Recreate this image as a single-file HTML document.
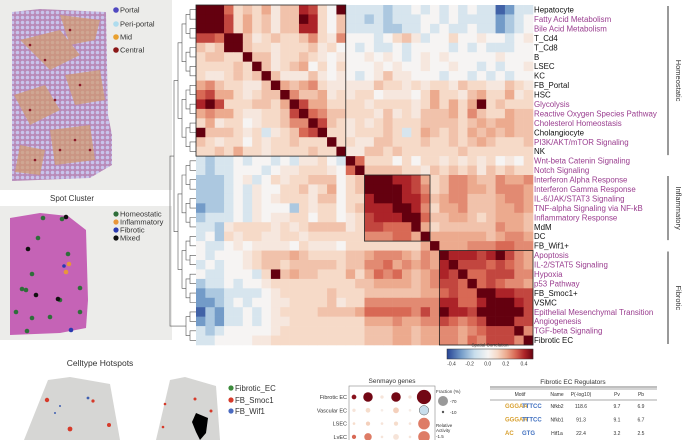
<!DOCTYPE html>
<html><head><meta charset="utf-8">
<style>
html,body{margin:0;padding:0;background:#fff;}
body{width:686px;height:440px;overflow:hidden;position:relative;font-family:"Liberation Sans",sans-serif;}
svg{position:absolute;left:0;top:0;}
text{font-family:"Liberation Sans",sans-serif;}
</style></head>
<body>
<svg id="fig" width="686" height="440" viewBox="0 0 686 440">
<defs>
<pattern id="hex" width="5" height="5" patternUnits="userSpaceOnUse">
<rect width="5" height="5" fill="#b88ab8"/>
<circle cx="2.5" cy="2.5" r="1.8" fill="#c8c4ec"/>
</pattern>
</defs>
<g>
<rect x="0" y="0" width="172" height="190" fill="#ececea"/>
<path d="M12 12 L40 9 L106 12 L108 115 L112 135 L112 165 L100 172 L90 178 L12 181 Z" fill="url(#hex)"/>
<g fill="#d39a6d" opacity="0.7">
<path d="M20 40 L60 30 L80 55 L50 70 Z"/><path d="M14 95 L45 85 L60 110 L30 125 Z"/><path d="M65 75 L100 70 L105 100 L75 105 Z"/><path d="M50 130 L90 125 L95 160 L55 165 Z"/><path d="M20 145 L45 150 L40 175 L15 172 Z"/><path d="M60 15 L100 20 L95 40 L70 45 Z"/>
</g>
<g fill="#8b1a2a">
<circle cx="30" cy="45" r="1.3"/><circle cx="45" cy="60" r="1.3"/><circle cx="70" cy="30" r="1.3"/><circle cx="80" cy="85" r="1.3"/><circle cx="55" cy="100" r="1.3"/><circle cx="30" cy="110" r="1.3"/><circle cx="75" cy="140" r="1.3"/><circle cx="90" cy="150" r="1.3"/><circle cx="35" cy="160" r="1.3"/><circle cx="60" cy="150" r="1.3"/>
</g>
<g font-size="7.5" fill="#333">
<circle cx="116" cy="10" r="2.8" fill="#5048c0"/><text x="120" y="12.5">Portal</text>
<circle cx="116" cy="24" r="2.8" fill="#aedcee"/><text x="120" y="26.5">Peri-portal</text>
<circle cx="116" cy="37" r="2.8" fill="#e8a030"/><text x="120" y="39.5">Mid</text>
<circle cx="116" cy="50" r="2.8" fill="#8a1818"/><text x="120" y="52.5">Central</text>
</g>
</g>
<text x="72" y="201" font-size="8" fill="#333" text-anchor="middle">Spot Cluster</text>
<g>
<rect x="0" y="206" width="172" height="134" fill="#ececea"/>
<path d="M10 218 L40 213 L68 216 L86 230 L88 300 L86 328 L60 333 L10 335 Z" fill="#c563b6"/>
<g fill="#2f6e3a">
<circle cx="43" cy="218" r="2.3"/><circle cx="38" cy="238" r="2.3"/><circle cx="68" cy="254" r="2.3"/><circle cx="32" cy="274" r="2.3"/><circle cx="22" cy="289" r="2.3"/><circle cx="26" cy="290" r="2.3"/><circle cx="80" cy="288" r="2.3"/><circle cx="16" cy="312" r="2.3"/><circle cx="32" cy="318" r="2.3"/><circle cx="50" cy="317" r="2.3"/><circle cx="60" cy="300" r="2.3"/><circle cx="80" cy="312" r="2.3"/><circle cx="27" cy="331" r="2.3"/><circle cx="62" cy="219" r="2.3"/></g>
<g fill="#111"><circle cx="66" cy="217" r="2.3"/><circle cx="28" cy="249" r="2.3"/><circle cx="36" cy="295" r="2.3"/><circle cx="58" cy="299" r="2.3"/></g>
<g fill="#e8963a"><circle cx="69" cy="264" r="2.3"/><circle cx="66" cy="272" r="2.3"/></g>
<g fill="#2a3ab0"><circle cx="64" cy="266" r="1.8"/><circle cx="71" cy="330" r="2.3"/></g>
<g font-size="7.5" fill="#333">
<circle cx="116" cy="214" r="2.6" fill="#2f6e3a"/><text x="120" y="216.5">Homeostatic</text>
<circle cx="116" cy="222" r="2.6" fill="#e8963a"/><text x="120" y="224.5">Inflammatory</text>
<circle cx="116" cy="230" r="2.6" fill="#2a3ab0"/><text x="120" y="232.5">Fibrotic</text>
<circle cx="116" cy="238" r="2.6" fill="#111"/><text x="120" y="240.5">Mixed</text>
</g>
</g>
<g id="dendro" stroke="#555" stroke-width="0.6" fill="none"></g>
<g id="heat"></g>
<g id="labels" font-size="7.9"></g>
<g id="groups"></g>
<g id="cbar"></g>
<text x="100" y="366" font-size="8.5" fill="#333" text-anchor="middle">Celltype Hotspots</text>
<g>
<path d="M48 380 L70 377 L110 384 L120 440 L24 440 Z" fill="#d6d6d4"/>
<path d="M170 380 L185 377 L216 386 L220 440 L156 440 Z" fill="#d6d6d4"/>
<g fill="#d63a2a"><circle cx="47" cy="400" r="2.2"/><circle cx="93" cy="401" r="1.6"/><circle cx="70" cy="429" r="2.4"/><circle cx="109" cy="425" r="2"/><circle cx="165" cy="404" r="1.3"/><circle cx="195" cy="399" r="1.5"/><circle cx="211" cy="411" r="1.5"/><circle cx="163" cy="427" r="1.3"/></g>
<g fill="#4060b0"><circle cx="88" cy="398" r="1.4"/><circle cx="55" cy="413" r="1"/><circle cx="60" cy="406" r="1"/></g>
<path d="M196 413 L208 418 L206 433 L200 440 L196 432 L192 422 Z" fill="#000"/>
<g font-size="7.8" fill="#333">
<circle cx="231" cy="388" r="2.6" fill="#3b8a3b"/><text x="235" y="391">Fibrotic_EC</text>
<circle cx="231" cy="400" r="2.6" fill="#d63a2a"/><text x="235" y="403">FB_Smoc1</text>
<circle cx="231" cy="411" r="2.6" fill="#4a6ac0"/><text x="235" y="414">FB_Wif1</text>
</g>
</g>
<g id="dots"></g>
<g id="table"></g>
</svg>
<script>
const rowLabels=["Hepatocyte","Fatty Acid Metabolism","Bile Acid Metabolism","T_Cd4","T_Cd8","B","LSEC","KC","FB_Portal","HSC","Glycolysis","Reactive Oxygen Species Pathway","Cholesterol Homeostasis","Cholangiocyte","PI3K/AKT/mTOR Signaling","NK","Wnt-beta Catenin Signaling","Notch Signaling","Interferon Alpha Response","Interferon Gamma Response","IL-6/JAK/STAT3 Signaling","TNF-alpha Signaling via NF-kB","Inflammatory Response","MdM","DC","FB_Wif1+","Apoptosis","IL-2/STAT5 Signaling","Hypoxia","p53 Pathway","FB_Smoc1+","VSMC","Epithelial Mesenchymal Transition","Angiogenesis","TGF-beta Signaling","Fibrotic EC"];
const isPathway=[0,1,1,0,0,0,0,0,0,0,1,1,1,0,1,0,1,1,1,1,1,1,1,0,0,0,1,1,1,1,0,0,1,1,1,0];
const corrRows=[
"9996232413387209"+"dd"+"ddcdd0d"+"0"+"d0d0ddabdd",
"9997242313398203"+"dd"+"cdcddd0"+"0"+"d0ddddbcd0",
"9997242313388203"+"dd"+"ddccdd0"+"d"+"0dd0ddbcd0",
"7769931232235215"+"00"+"0d0231d"+"0"+"0200100d01",
"3239932212223120"+"0d"+"0dd0d00"+"0"+"0d0d0ddd00",
"2332293312232101"+"00"+"1010d01"+"0"+"1000001000",
"2222329312340202"+"00"+"0101001"+"0"+"0100d0d001",
"2112323931113101"+"0d"+"0131100"+"0"+"d00d0d0d00",
"4532211394345211"+"11"+"1322121"+"2"+"2132211321",
"6744212339533412"+"12"+"2011102"+"4"+"2213422412",
"8972223324974422"+"22"+"1222212"+"4"+"2424923222",
"4544211223796533"+"22"+"2131213"+"3"+"3425322433",
"2412201223559732"+"12"+"1232223"+"3"+"3323434433",
"9333212d12367922"+"12"+"2232d24"+"3"+"2324343433",
"3212202122322292"+"21"+"1332223"+"2"+"2323432223",
"2232422122223229"+"11"+"3323222"+"2"+"2232222222",
"dcdd0d00d0d1120d"+"96"+"2220202"+"2"+"1212120102",
"dcdd000d01122210"+"69"+"3333221"+"3"+"2323132322",
"cccd01d021223330"+"23"+"9998874"+"2"+"3554335445",
"cccd0d1002231240"+"23"+"9999875"+"2"+"3554435554",
"cccd0d1012221330"+"22"+"8999886"+"3"+"4553334554",
"bccd0d1000c21220"+"23"+"8889985"+"2"+"4453334454",
"cddd0d1011220220"+"12"+"7888996"+"3"+"3443234443",
"ddc1222212123333"+"12"+"7766694"+"2"+"3333335443",
"d0c2122112212222"+"22"+"5556649"+"4"+"4444434554",
"0dd0101111021110"+"22"+"2222224"+"9"+"4445556655",
"0d00012333432222"+"33"+"4555435"+"4"+"9888789754",
"d0d0012332333332"+"33"+"5564545"+"4"+"8977767654",
"0dd000d293433222"+"42"+"4656434"+"5"+"8796677755",
"cdd0d00122222222"+"23"+"3444434"+"5"+"7769676554",
"bccdddd012222232"+"22"+"3333334"+"4"+"6766998877",
"bbcd0d0011222231"+"22"+"5555555"+"5"+"8866899987",
"acbdd0d012222333"+"34"+"6666657"+"5"+"9887999997",
"bcbdd0d011222222"+"22"+"4445445"+"5"+"7656799977",
"dcd0000012222222"+"22"+"3334434"+"4"+"5545677795",
"dd00001122222222"+"22"+"3334434"+"4"+"5546577759"];
const codeValues={a:-0.4,b:-0.3,c:-0.2,d:-0.1,"0":0,"1":0.05,"2":0.1,"3":0.15,"4":0.2,"5":0.25,"6":0.3,"7":0.35,"8":0.4,"9":0.5};
const blockStarts=[0,18,26];
const blockEnds=[15,24,35];
const groupNames=["Homeostatic","Inflammatory","Fibrotic"];
const groupStart=[0,18,26];
const groupEnd=[15,24,35];
const cbarTicks=[-0.4,-0.2,0.0,0.2,0.4];
const tickText=["-0.4","-0.2","0.0","0.2","0.4"];
const dotRows=["Fibrotic EC","Vascular EC","LSEC","LvEC"];
const dotFraction=[[10,40,5,40,5,90],[5,10,3,15,3,40],[3,8,3,8,3,60],[8,25,3,15,3,60]];
const dotActivity=[[1.5,1.6,0.2,1.6,0.2,1.6],[0.2,0.3,0.1,0.4,0.1,-0.5],[0.3,0.4,0.2,0.3,0.2,0.9],[1.0,0.9,0.2,0.2,0.2,0.9]];
const regNames=["Nfkb2","Nfkb1","Hif1a"];
const regP=["118.6","91.3","22.4"];
const regPv=["9.7","9.1","3.2"];
const regPb=["6.9","6.7","2.5"];

const NS="http://www.w3.org/2000/svg";
function mk(tag,attrs,parent){const e=document.createElementNS(NS,tag);for(const k in attrs)e.setAttribute(k,attrs[k]);parent.appendChild(e);return e;}
const X0=196,Y0=5,N=rowLabels.length,CW=(533-196)/N,CH=(345-5)/N;
const xs=i=>X0+i*CW, ys=i=>Y0+i*CH;
const stopsV=[-0.45,-0.3,-0.15,0,0.1,0.2,0.3,0.4,0.5];
const stopsC=[[40,70,150],[115,155,200],[200,222,236],[246,244,243],[246,218,200],[236,170,142],[216,105,85],[172,35,40],[100,0,15]];
function color(v){v=Math.max(-0.45,Math.min(0.5,v));for(let i=0;i<stopsV.length-1;i++){if(v<=stopsV[i+1]){const t=(v-stopsV[i])/(stopsV[i+1]-stopsV[i]);const c=stopsC[i].map((a,k)=>Math.round(a+(stopsC[i+1][k]-a)*t));return `rgb(${c})`;}}return "rgb(100,0,15)";}
const heat=document.getElementById('heat');
corrRows.forEach((row,r)=>{for(let c=0;c<N;c++){const v=codeValues[row[c]];
 const cell=mk('rect',{x:xs(c).toFixed(2),y:ys(r).toFixed(2),width:(CW+0.3).toFixed(2),height:(CH+0.3).toFixed(2),fill:color(v)},heat);
 
 }});
blockStarts.forEach((s,i)=>{const e=blockEnds[i];const b=mk('rect',{x:xs(s),y:ys(s),width:(e-s+1)*CW,height:(e-s+1)*CH,fill:'none',stroke:'#222','stroke-width':0.8},heat);
 
 });
const lab=document.getElementById('labels');
rowLabels.forEach((t,i)=>{const e=mk('text',{x:534,y:(ys(i)+CH*0.8).toFixed(1),fill:isPathway[i]?'#9a3d8f':'#111'},lab);e.textContent=t;
 
 });
const grp=document.getElementById('groups');
groupNames.forEach((g,i)=>{const y1=ys(groupStart[i])+1,y2=ys(groupEnd[i]+1)-1;
 const l=mk('line',{x1:668,x2:668,y1:y1,y2:y2,stroke:'#333','stroke-width':1},grp);
 
 
 const cy=(y1+y2)/2;const t=mk('text',{x:676,y:cy,'font-size':7.5,fill:'#333','text-anchor':'middle',transform:`rotate(90 676 ${cy})`},grp);t.textContent=g;
 
 });
const den=document.getElementById('dendro');
let nodes=[];for(let i=0;i<N;i++)nodes.push({x:X0,y:ys(i)+CH/2});
const xStep=[190,186,182,178,174,170,166];
let level=0;
while(nodes.length>1&&level<7){const nx=[];for(let i=0;i<nodes.length;i+=2){if(i+1<nodes.length){const a=nodes[i],b=nodes[i+1],x=xStep[level];
 mk('path',{d:`M${a.x} ${a.y} H${x} V${b.y} H${b.x}`},den);nx.push({x:x,y:(a.y+b.y)/2});}else nx.push(nodes[i]);}
 nodes=nx;level++;}
const cb=document.getElementById('cbar');
const cbx=(v)=>447+(v+0.45)/0.95*86;
for(let i=0;i<86;i++){const v=-0.45+i/86*0.95;mk('rect',{x:447+i,y:349,width:1.2,height:10,fill:color(v)},cb);}
mk('rect',{x:447,y:349,width:86,height:10,fill:'none',stroke:'#333','stroke-width':0.5},cb);
const ct=mk('text',{x:490,y:346.5,'font-size':4.5,fill:'#333','text-anchor':'middle'},cb);ct.textContent='Spatial Correlation';
cbarTicks.forEach((v,i)=>{const t=mk('text',{x:cbx(v),y:365.5,'font-size':5,fill:'#333','text-anchor':'middle'},cb);t.textContent=tickText[i];
 
 });
const dp=document.getElementById('dots');
const dtt=mk('text',{x:392,y:383,'font-size':6.5,fill:'#333','text-anchor':'middle'},dp);dtt.textContent='Senmayo genes';
mk('rect',{x:349,y:386,width:86,height:60,fill:'none',stroke:'#888','stroke-width':0.6},dp);
const dcx=j=>354+j*14,dcy=i=>397+i*13.3;
dotRows.forEach((r,i)=>{const t=mk('text',{x:347,y:dcy(i)+2,'font-size':5.5,fill:'#333','text-anchor':'end'},dp);t.textContent=r;
 
 
 dotFraction[i].forEach((f,j)=>{const c=mk('circle',{cx:dcx(j),cy:dcy(i),r:(Math.sqrt(f)*0.75).toFixed(2),fill:color(dotActivity[i][j]*0.3),stroke:dotActivity[i][j]<0?'#555':'none','stroke-width':0.5},dp);
 
 });});
const fl=mk('text',{x:436,y:393,'font-size':4.5,fill:'#333'},dp);fl.textContent='Fraction (%)';
mk('circle',{cx:443,cy:401,r:5,fill:'#999'},dp);const f1=mk('text',{x:450,y:403,'font-size':4.5,fill:'#333'},dp);f1.textContent='-70';
mk('circle',{cx:443,cy:412,r:1.2,fill:'#555'},dp);const f2=mk('text',{x:450,y:414,'font-size':4.5,fill:'#333'},dp);f2.textContent='-10';
const ra=mk('text',{x:436,y:427,'font-size':4.5,fill:'#333'},dp);ra.textContent='Relative';
const rb=mk('text',{x:436,y:432,'font-size':4.5,fill:'#333'},dp);rb.textContent='Activity';
const rc=mk('text',{x:436,y:438,'font-size':4.5,fill:'#333'},dp);rc.textContent='-1.5';
const tb=document.getElementById('table');
const tt=mk('text',{x:573,y:384,'font-size':6.5,fill:'#333','text-anchor':'middle'},tb);tt.textContent='Fibrotic EC Regulators';
mk('line',{x1:490,x2:657,y1:387,y2:387,stroke:'#555','stroke-width':0.8},tb);
mk('line',{x1:490,x2:657,y1:389,y2:389,stroke:'#555','stroke-width':0.5},tb);
mk('line',{x1:490,x2:657,y1:400,y2:400,stroke:'#555','stroke-width':0.5},tb);
const hx=[520,557,581,617,641],hd=['Motif','Name','P(-log10)','Pv','Pb'];
hd.forEach((h,i)=>{const t=mk('text',{x:hx[i],y:396,'font-size':5,fill:'#333','text-anchor':'middle'},tb);t.textContent=h;
 
 });
regNames.forEach((n,i)=>{const y=408+i*13.5;
 const g=mk('text',{x:505,y:y,'font-size':6,'font-weight':'bold',fill:'#d8a030'},tb);g.textContent=i<2?'GGGAA':'AC';
 const g2=mk('text',{x:522,y:y,'font-size':6,'font-weight':'bold',fill:'#4070c0'},tb);g2.textContent=i<2?'TTTCC':'GTG';
 [[n,557],[regP[i],581],[regPv[i],617],[regPb[i],641]].forEach(([s,x])=>{const t=mk('text',{x:x,y:y,'font-size':5,fill:'#333','text-anchor':'middle'},tb);t.textContent=s;
 
 });});
</script>
</body></html>
